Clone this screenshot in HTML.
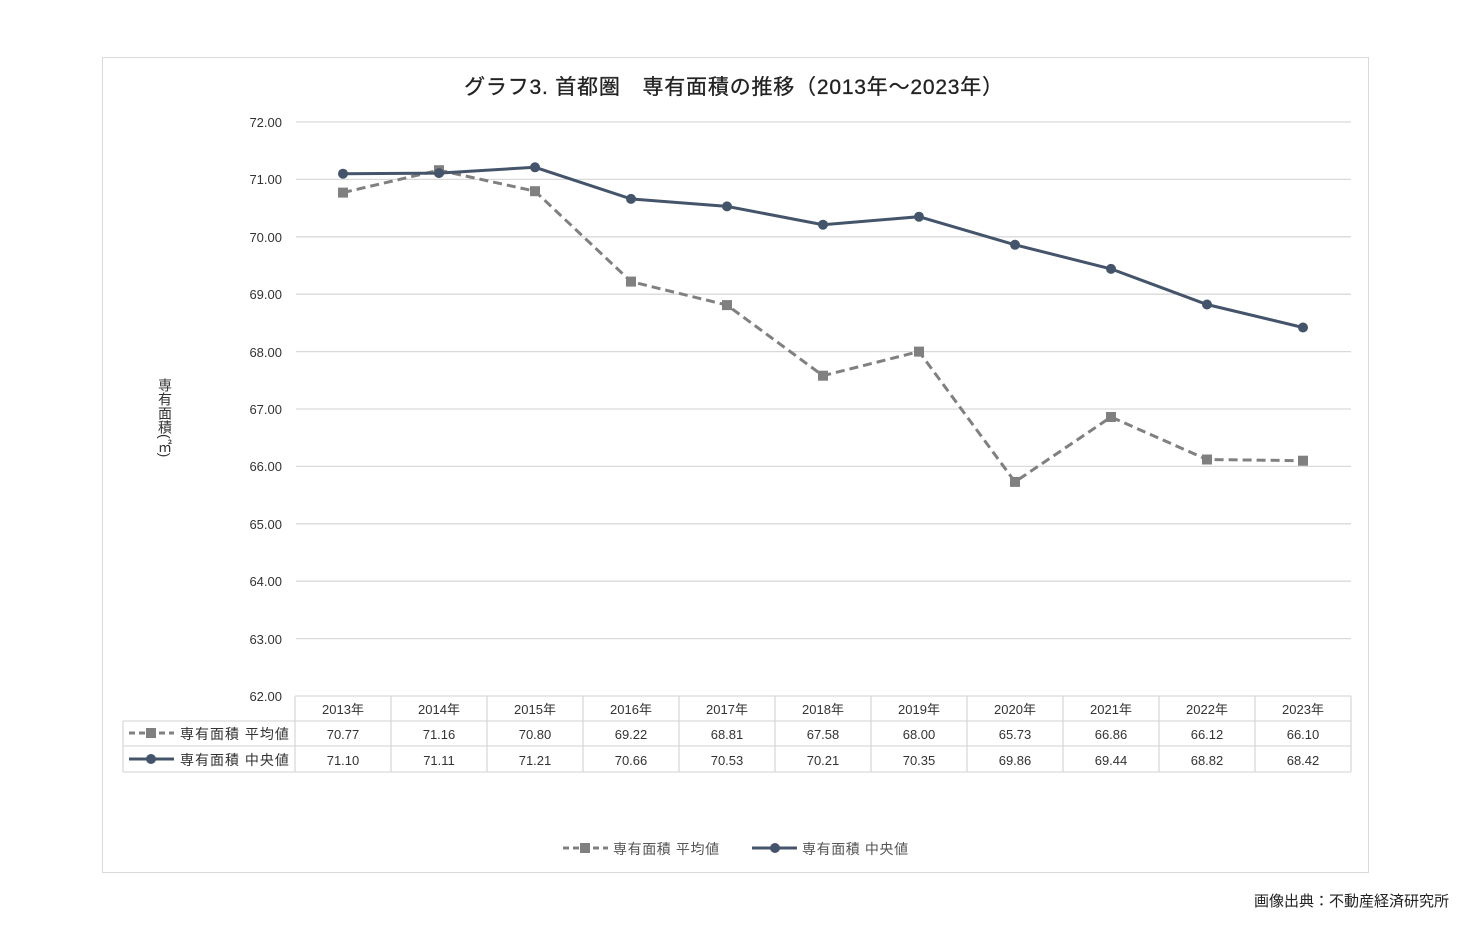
<!DOCTYPE html><html><head><meta charset="utf-8"><style>body{margin:0;background:#fff}</style></head><body>
<svg width="1470" height="930" xmlns="http://www.w3.org/2000/svg" font-family="Liberation Sans, Noto Sans CJK JP, sans-serif">
<rect x="102.5" y="57.5" width="1266" height="815" fill="#fff" stroke="#d9d9d9"/>
<text x="734" y="94" font-size="21" letter-spacing="0.8" text-anchor="middle" fill="#222" stroke="#222" stroke-width="0.3">グラフ3. 首都圏　専有面積の推移（2013年～2023年）</text>
<g stroke="#d9d9d9" stroke-width="1.3">
<line x1="296" x2="1351" y1="122" y2="122"/><line x1="296" x2="1351" y1="179.4" y2="179.4"/><line x1="296" x2="1351" y1="236.8" y2="236.8"/><line x1="296" x2="1351" y1="294.2" y2="294.2"/><line x1="296" x2="1351" y1="351.6" y2="351.6"/><line x1="296" x2="1351" y1="409" y2="409"/><line x1="296" x2="1351" y1="466.4" y2="466.4"/><line x1="296" x2="1351" y1="523.8" y2="523.8"/><line x1="296" x2="1351" y1="581.2" y2="581.2"/><line x1="296" x2="1351" y1="638.6" y2="638.6"/>
</g>
<g font-size="13" fill="#333" text-anchor="end">
<text x="282" y="127">72.00</text><text x="282" y="184">71.00</text><text x="282" y="242">70.00</text><text x="282" y="299">69.00</text><text x="282" y="357">68.00</text><text x="282" y="414">67.00</text><text x="282" y="471">66.00</text><text x="282" y="529">65.00</text><text x="282" y="586">64.00</text><text x="282" y="644">63.00</text><text x="282" y="701">62.00</text>
</g>
<text x="165" y="378" font-size="14" fill="#333" text-anchor="start" writing-mode="tb">専有面積(㎡)</text>
<polyline fill="none" stroke="#808080" stroke-width="3" stroke-dasharray="9,5" points="343,192.6 439,170.2 535,191.2 631,281.6 727,305.1 823,375.7 919,351.6 1015,481.9 1111,417 1207,459.5 1303,460.7"/>
<g fill="#808080">
<rect x="338" y="187.6" width="10" height="10"/><rect x="434" y="165.2" width="10" height="10"/><rect x="530" y="186.2" width="10" height="10"/><rect x="626" y="276.6" width="10" height="10"/><rect x="722" y="300.1" width="10" height="10"/><rect x="818" y="370.7" width="10" height="10"/><rect x="914" y="346.6" width="10" height="10"/><rect x="1010" y="476.9" width="10" height="10"/><rect x="1106" y="412" width="10" height="10"/><rect x="1202" y="454.5" width="10" height="10"/><rect x="1298" y="455.7" width="10" height="10"/>
</g>
<polyline fill="none" stroke="#44546a" stroke-width="3" points="343,173.7 439,173.1 535,167.3 631,198.9 727,206.4 823,224.7 919,216.7 1015,244.8 1111,268.9 1207,304.5 1303,327.5"/>
<g fill="#44546a">
<circle cx="343" cy="173.7" r="5"/><circle cx="439" cy="173.1" r="5"/><circle cx="535" cy="167.3" r="5"/><circle cx="631" cy="198.9" r="5"/><circle cx="727" cy="206.4" r="5"/><circle cx="823" cy="224.7" r="5"/><circle cx="919" cy="216.7" r="5"/><circle cx="1015" cy="244.8" r="5"/><circle cx="1111" cy="268.9" r="5"/><circle cx="1207" cy="304.5" r="5"/><circle cx="1303" cy="327.5" r="5"/>
</g>
<g stroke="#d9d9d9" stroke-width="1.3" fill="none">
<line x1="295" x2="1351" y1="696" y2="696"/><line x1="123" x2="1351" y1="721" y2="721"/><line x1="123" x2="1351" y1="746" y2="746"/><line x1="123" x2="1351" y1="772" y2="772"/>
<line x1="123" x2="123" y1="721" y2="772"/>
<line x1="295" x2="295" y1="696" y2="772"/><line x1="391" x2="391" y1="696" y2="772"/><line x1="487" x2="487" y1="696" y2="772"/><line x1="583" x2="583" y1="696" y2="772"/><line x1="679" x2="679" y1="696" y2="772"/><line x1="775" x2="775" y1="696" y2="772"/><line x1="871" x2="871" y1="696" y2="772"/><line x1="967" x2="967" y1="696" y2="772"/><line x1="1063" x2="1063" y1="696" y2="772"/><line x1="1159" x2="1159" y1="696" y2="772"/><line x1="1255" x2="1255" y1="696" y2="772"/><line x1="1351" x2="1351" y1="696" y2="772"/>
</g>
<g font-size="13" fill="#333" text-anchor="middle">
<text x="343" y="714">2013年</text><text x="439" y="714">2014年</text><text x="535" y="714">2015年</text><text x="631" y="714">2016年</text><text x="727" y="714">2017年</text><text x="823" y="714">2018年</text><text x="919" y="714">2019年</text><text x="1015" y="714">2020年</text><text x="1111" y="714">2021年</text><text x="1207" y="714">2022年</text><text x="1303" y="714">2023年</text>
<text x="343" y="739">70.77</text><text x="439" y="739">71.16</text><text x="535" y="739">70.80</text><text x="631" y="739">69.22</text><text x="727" y="739">68.81</text><text x="823" y="739">67.58</text><text x="919" y="739">68.00</text><text x="1015" y="739">65.73</text><text x="1111" y="739">66.86</text><text x="1207" y="739">66.12</text><text x="1303" y="739">66.10</text>
<text x="343" y="765">71.10</text><text x="439" y="765">71.11</text><text x="535" y="765">71.21</text><text x="631" y="765">70.66</text><text x="727" y="765">70.53</text><text x="823" y="765">70.21</text><text x="919" y="765">70.35</text><text x="1015" y="765">69.86</text><text x="1111" y="765">69.44</text><text x="1207" y="765">68.82</text><text x="1303" y="765">68.42</text>
</g>
<line x1="129" x2="174" y1="733" y2="733" stroke="#808080" stroke-width="3" stroke-dasharray="6,4"/><rect x="146" y="728" width="10" height="10" fill="#808080"/>
<text x="180" y="739" font-size="14" letter-spacing="1" fill="#333">専有面積 平均値</text>
<line x1="129" x2="174" y1="759" y2="759" stroke="#44546a" stroke-width="3"/><circle cx="151" cy="759" r="5" fill="#44546a"/>
<text x="180" y="765" font-size="14" letter-spacing="1" fill="#333">専有面積 中央値</text>
<line x1="563" x2="608" y1="848" y2="848" stroke="#808080" stroke-width="3" stroke-dasharray="6,4"/><rect x="580" y="843" width="10" height="10" fill="#808080"/>
<text x="613" y="854" font-size="14" letter-spacing="0.6" fill="#555">専有面積 平均値</text>
<line x1="752" x2="797" y1="848" y2="848" stroke="#44546a" stroke-width="3"/><circle cx="775" cy="848" r="5" fill="#44546a"/>
<text x="802" y="854" font-size="14" letter-spacing="0.6" fill="#555">専有面積 中央値</text>
<text x="1449" y="906" font-size="15" fill="#222" text-anchor="end">画像出典：不動産経済研究所</text>
</svg></body></html>
